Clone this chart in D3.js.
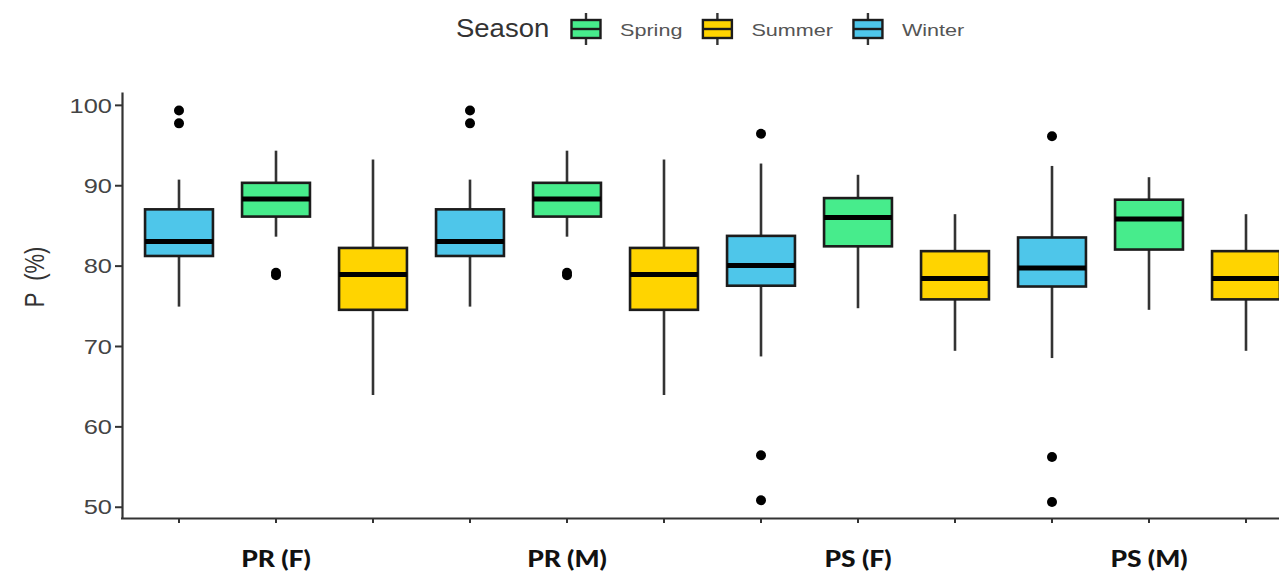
<!DOCTYPE html>
<html>
<head>
<meta charset="utf-8">
<script src="https://cdn.jsdelivr.net/npm/d3@7"></script>
<style>
  body { margin: 0; background: #fff; }
  svg { display: block; }
</style>
</head>
<body>
<div class="chart-div"></div>
<script>
//--------------------------- Data

var groups = ["PR (F)", "PR (M)", "PS (F)", "PS (M)"];
var seasons = ["Winter", "Spring", "Summer"];
var legendOrder = ["Spring", "Summer", "Winter"];

// one row per group, one value per season (Winter, Spring, Summer)
var whiskerLow  = [[74.9, 83.6, 63.9], [74.9, 83.6, 63.9], [68.7, 74.7, 69.4], [68.5, 74.5, 69.4]];
var q1          = [[81.2, 86.1, 74.5], [81.2, 86.1, 74.5], [77.5, 82.4, 75.8], [77.4, 82.0, 75.8]];
var medians     = [[83.0, 88.3, 78.9], [83.0, 88.3, 78.9], [80.0, 86.0, 78.4], [79.7, 85.8, 78.4]];
var q3          = [[87.0, 90.3, 82.2], [87.0, 90.3, 82.2], [83.7, 88.4, 81.8], [83.5, 88.2, 81.8]];
var whiskerHigh = [[90.7, 94.3, 93.2], [90.7, 94.3, 93.2], [92.7, 91.3, 86.4], [92.4, 91.0, 86.4]];
var outliers    = [[[99.3, 97.7], [79.1, 78.8], []],
                   [[99.3, 97.7], [79.1, 78.8], []],
                   [[96.4, 56.4, 50.8], [], []],
                   [[96.1, 56.2, 50.6], [], []]];

var yTicks = [50, 60, 70, 80, 90, 100];

//--------------------------- SVG definition

var width = 1279;
var height = 578;

var svg = d3.select("div.chart-div")
    .append("svg")
    .attr("width", width)
    .attr("height", height);

var colors = d3.scaleOrdinal()
    .domain(["Spring", "Summer", "Winter"])
    .range(["#47ec8c", "#ffd400", "#4ec6ea"]);

var stroke = "#1c1c1c";

//--------------------------- Scales

var y = d3.scaleLinear().domain([48.6, 101.6]).range([518, 92]);

var x0 = d3.scaleBand().domain(groups).range([130.5, 1294.5]);
var x1 = d3.scaleBand().domain(seasons).range([0, x0.bandwidth()]);
var boxW = x1.bandwidth() * 0.7;

// flat list of boxes built from the arrays
var boxes = [];
groups.forEach(function (g, gi) {
    seasons.forEach(function (s, si) {
        boxes.push({
            group: g, season: s,
            cx: x0(g) + x1(s) + x1.bandwidth() / 2,
            lo: whiskerLow[gi][si], q1: q1[gi][si], med: medians[gi][si],
            q3: q3[gi][si], hi: whiskerHigh[gi][si], out: outliers[gi][si]
        });
    });
});

//--------------------------- Axes

var yAxis = svg.append("g")
    .attr("transform", "translate(122,0)")
    .call(d3.axisLeft(y).tickValues(yTicks).tickSize(7).tickSizeOuter(0));

yAxis.select(".domain").attr("stroke", "#333").attr("stroke-width", 2.2);
yAxis.selectAll(".tick line").attr("stroke", "#333").attr("stroke-width", 2);
yAxis.selectAll(".tick text")
    .attr("x", 0)
    .attr("dy", "0.36em")
    .attr("transform", "translate(-10,0) scale(1.27,1)")
    .style("font-family", "'Liberation Sans', Arial, sans-serif")
    .style("font-size", "20px")
    .attr("fill", "#444");

// x axis line and one tick per box
svg.append("line")
    .attr("x1", 121).attr("x2", width)
    .attr("y1", 518.5).attr("y2", 518.5)
    .attr("stroke", "#333").attr("stroke-width", 2.2);

svg.append("g").selectAll("line")
    .data(boxes)
    .enter()
    .append("line")
    .attr("x1", function (d) { return d.cx; })
    .attr("x2", function (d) { return d.cx; })
    .attr("y1", 518).attr("y2", 523)
    .attr("stroke", "#333").attr("stroke-width", 2);

svg.append("g").selectAll("text")
    .data(groups)
    .enter()
    .append("text")
    .attr("transform", function (d) {
        return "translate(" + (x0(d) + x0.bandwidth() / 2) + ",567) scale(1.2,1)";
    })
    .attr("text-anchor", "middle")
    .style("font-family", "Lato, 'Liberation Sans', sans-serif")
    .style("font-weight", "900")
    .style("font-size", "22px")
    .attr("fill", "#111")
    .text(function (d) { return d; });

// y title
svg.append("text")
    .attr("transform", "translate(44,277) rotate(-90) scale(1,1.25)")
    .attr("text-anchor", "middle")
    .style("font-family", "'Liberation Sans', Arial, sans-serif")
    .style("font-size", "22px")
    .style("white-space", "pre")
    .attr("fill", "#333")
    .text("P  (%)");

//--------------------------- Boxes

var bx = svg.append("g").selectAll("g")
    .data(boxes)
    .enter()
    .append("g");

bx.append("line")
    .attr("x1", function (d) { return d.cx; })
    .attr("x2", function (d) { return d.cx; })
    .attr("y1", function (d) { return y(d.hi); })
    .attr("y2", function (d) { return y(d.lo); })
    .attr("stroke", "#333").attr("stroke-width", 2.6);

bx.append("rect")
    .attr("x", function (d) { return d.cx - boxW / 2; })
    .attr("y", function (d) { return y(d.q3); })
    .attr("width", boxW)
    .attr("height", function (d) { return y(d.q1) - y(d.q3); })
    .attr("fill", function (d) { return colors(d.season); })
    .attr("stroke", stroke).attr("stroke-width", 2.6);

bx.append("line")
    .attr("x1", function (d) { return d.cx - boxW / 2; })
    .attr("x2", function (d) { return d.cx + boxW / 2; })
    .attr("y1", function (d) { return y(d.med); })
    .attr("y2", function (d) { return y(d.med); })
    .attr("stroke", "#000").attr("stroke-width", 5);

bx.selectAll("circle")
    .data(function (d) { return d.out.map(function (v) { return { cx: d.cx, v: v }; }); })
    .enter()
    .append("circle")
    .attr("cx", function (d) { return d.cx; })
    .attr("cy", function (d) { return y(d.v); })
    .attr("r", 5)
    .attr("fill", "#000");

//--------------------------- Legend

var legend = svg.append("g");

legend.append("text")
    .attr("x", 456).attr("y", 37)
    .style("font-family", "'Liberation Sans', Arial, sans-serif")
    .style("font-size", "25px")
    .attr("fill", "#333")
    .attr("transform", "translate(456,0) scale(1.1,1) translate(-456,0)")
    .text("Season");

var kx = 570;
var labelScale = 1.27;
legendOrder.forEach(function (s) {
    var k = legend.append("g").attr("transform", "translate(" + kx + ",0)");
    k.append("line")
        .attr("x1", 16).attr("x2", 16).attr("y1", 13).attr("y2", 45)
        .attr("stroke", "#333").attr("stroke-width", 2.4);
    k.append("rect")
        .attr("x", 1.5).attr("y", 20).attr("width", 29).attr("height", 18)
        .attr("fill", colors(s)).attr("stroke", stroke).attr("stroke-width", 2.4);
    k.append("line")
        .attr("x1", 1.5).attr("x2", 30.5).attr("y1", 29).attr("y2", 29)
        .attr("stroke", stroke).attr("stroke-width", 2.4);
    var t = k.append("text")
        .attr("transform", "translate(50,36) scale(" + labelScale + ",1)")
        .style("font-family", "'Liberation Sans', Arial, sans-serif")
        .style("font-size", "17px")
        .attr("fill", "#555")
        .text(s);
    kx += 50 + t.node().getComputedTextLength() * labelScale + 19;
});
</script>
</body>
</html>
